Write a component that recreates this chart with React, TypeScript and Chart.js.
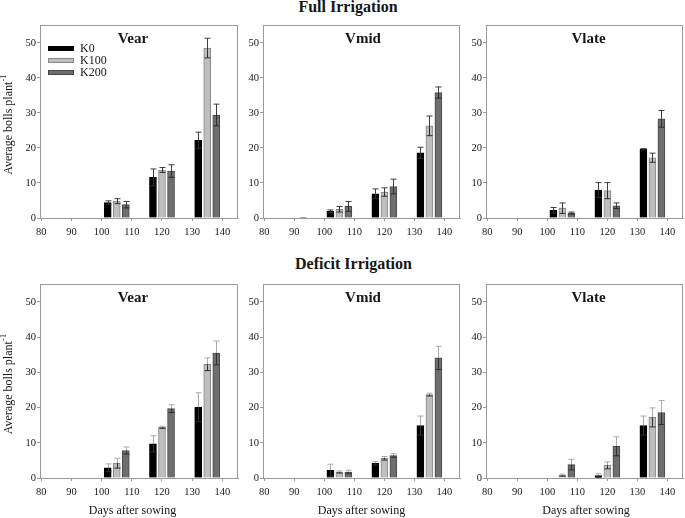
import { useEffect, useRef } from "react";
import { Chart, registerables } from "chart.js";

Chart.register(...registerables);

const FONT = "'Liberation Serif', 'Times New Roman', Times, serif";
const AXIS = "#9a9a9a";
const TEXT = "#161616";

// ---------------- data ----------------
const treatments = ["K0", "K100", "K200"];
const daysK0 = [87, 102, 117, 132];
const daysK100 = [90, 105, 120, 135];
const daysK200 = [93, 108, 123, 138];
const xTickValues = [80, 90, 100, 110, 120, 130, 140];
const yTickValues = [0, 10, 20, 30, 40, 50];
const cultivars = ["Vear", "Vmid", "Vlate"];
const regimes = ["Full Irrigation", "Deficit Irrigation"];

// rows: K0, K100, K200 ; columns follow the sampling days
const fullVearMean = [[0, 4.4, 11.6, 22.2], [0, 4.8, 13.7, 48.5], [0, 3.8, 13.4, 29.4]];
const fullVearErr = [[0, 0.5, 2.4, 2.3], [0, 0.7, 0.7, 2.8], [0, 0.9, 1.8, 3.1]];
const fullVmidMean = [[0, 1.9, 6.9, 18.6], [0, 2.5, 7.4, 26.3], [0.2, 3.3, 9.0, 35.8]];
const fullVmidErr = [[0, 0.4, 1.4, 1.6], [0, 0.8, 1.2, 2.8], [0, 1.4, 2.1, 1.6]];
const fullVlateMean = [[0, 2.2, 8.0, 19.6], [0, 2.8, 7.8, 17.2], [0, 1.4, 3.5, 28.3]];
const fullVlateErr = [[0, 0.8, 2.1, 0.2], [0, 1.5, 2.3, 1.3], [0, 0.3, 0.8, 2.4]];
const defVearMean = [[0, 2.9, 9.7, 20.1], [0, 4.2, 14.4, 32.3], [0, 7.8, 19.7, 35.5]];
const defVearErr = [[0, 1.1, 2.3, 4.1], [0, 1.4, 0.3, 1.8], [0, 1.0, 1.1, 3.4]];
const defVmidMean = [[0, 2.2, 4.2, 14.9], [0, 1.7, 5.6, 23.7], [0, 1.7, 6.4, 34.1]];
const defVmidErr = [[0, 1.7, 0.5, 2.7], [0, 0.3, 0.5, 0.4], [0, 0.5, 0.5, 3.3]];
const defVlateMean = [[0, 0, 0.7, 14.9], [0, 0.8, 3.6, 17.2], [0, 3.8, 9.0, 18.6]];
const defVlateErr = [[0, 0, 0.5, 2.7], [0, 0.3, 1.0, 2.7], [0, 1.5, 2.7, 3.4]];

// ---------------- styling ----------------
const barFill = ["#000000", "#bebebe", "#6e6e6e"];
const barEdge = ["#000000", "#878787", "#474747"];
const colLeft = [40, 263, 486];
const colRight = [238, 460, 683];
const rowTop = [20, 279];
const rowBottom = [218, 478];
const titleDx = [-6, 1.5, 4];
const xTitleDx = [-6.5, 0, 1.5];
const TP = 2;
const RP = 2;

type PanelProps = {
  row: number;
  col: number;
  means: number[][];
  errs: number[][];
};

function Panel({ row, col, means, errs }: PanelProps) {
  const ref = useRef<HTMLCanvasElement>(null);
  const yw = col === 0 ? 40 : 26;
  const xh = row === 0 ? 28 : 45;
  const L = colLeft[col];
  const R = colRight[col];
  const T = rowTop[row];
  const B = rowBottom[row];
  const w = yw + (R - L) + RP;
  const h = TP + (B - T) + xh;
  const deficit = row === 1;

  useEffect(() => {
    const days = [daysK0, daysK100, daysK200];
    const deco = {
      id: "deco" + row + col,
      afterDatasetsDraw(chart: any) {
        const ctx = chart.ctx;
        const ys = chart.scales.y;
        ctx.save();
        ctx.lineWidth = 1;
        chart.data.datasets.forEach((_ds: any, k: number) => {
          const meta = chart.getDatasetMeta(k);
          meta.data.forEach((bar: any, i: number) => {
            const v = means[k][i];
            const e = errs[k][i];
            if (!e) return;
            const x = Math.round(bar.x) + 0.5;
            const yTop = ys.getPixelForValue(v);
            const yHi = ys.getPixelForValue(v + e);
            const yLo = ys.getPixelForValue(Math.max(0, v - e));
            const cap = 3;
            ctx.strokeStyle = deficit ? "#a9a9a9" : "#3c3c3c";
            ctx.beginPath();
            ctx.moveTo(x, yTop);
            ctx.lineTo(x, yHi);
            ctx.moveTo(x - cap, yHi);
            ctx.lineTo(x + cap, yHi);
            ctx.stroke();
            ctx.strokeStyle = "#2e2e2e";
            ctx.beginPath();
            ctx.moveTo(x, yTop);
            ctx.lineTo(x, yLo);
            ctx.moveTo(x - cap, yLo);
            ctx.lineTo(x + cap, yLo);
            ctx.stroke();
          });
        });
        ctx.restore();
      },
      afterDraw(chart: any) {
        const ctx = chart.ctx;
        const a = chart.chartArea;
        ctx.save();
        // frame
        ctx.strokeStyle = AXIS;
        ctx.lineWidth = 1;
        ctx.strokeRect(Math.round(a.left) + 0.5, Math.round(a.top) + 0.5, Math.round(a.right - a.left) - 1, Math.round(a.bottom - a.top));
        // panel title
        ctx.fillStyle = TEXT;
        ctx.font = `bold 15px ${FONT}`;
        ctx.textAlign = "center";
        ctx.textBaseline = "alphabetic";
        ctx.fillText(cultivars[col], (a.left + a.right) / 2 + titleDx[col], a.top + 17.8);
        // legend
        if (row === 0 && col === 0) {
          ctx.font = `12px ${FONT}`;
          ctx.textAlign = "left";
          ctx.textBaseline = "middle";
          chart.data.datasets.forEach((ds: any, k: number) => {
            const cy = a.top + 23.3 + k * 11.7;
            const bx = a.left + 8;
            ctx.fillStyle = ds.borderColor;
            ctx.fillRect(bx, Math.round(cy - 2.5), 26, 5);
            ctx.fillStyle = ds.backgroundColor;
            ctx.fillRect(bx + 1, Math.round(cy - 2.5) + 1, 24, 3);
            ctx.fillStyle = TEXT;
            ctx.fillText(ds.label, bx + 32, cy + 0.5);
          });
        }
        // y title
        if (col === 0) {
          const main = "Average bolls plant";
          const sup = "-1";
          ctx.font = `12px ${FONT}`;
          const wMain = ctx.measureText(main).width;
          ctx.font = `8px ${FONT}`;
          const wSup = ctx.measureText(sup).width;
          const total = wMain + wSup + 0.5;
          ctx.translate(8.5, (a.top + a.bottom) / 2 + 3);
          ctx.rotate(-Math.PI / 2);
          ctx.fillStyle = TEXT;
          ctx.textAlign = "left";
          ctx.textBaseline = "middle";
          ctx.font = `12px ${FONT}`;
          ctx.fillText(main, -total / 2, 0);
          ctx.font = `8px ${FONT}`;
          ctx.fillText(sup, -total / 2 + wMain + 0.5, -4.5);
          ctx.setTransform(1, 0, 0, 1, 0, 0);
          ctx.restore();
          ctx.save();
        }
        // x title
        if (row === 1) {
          ctx.fillStyle = TEXT;
          ctx.font = `12px ${FONT}`;
          ctx.textAlign = "center";
          ctx.textBaseline = "middle";
          ctx.fillText("Days after sowing", (a.left + a.right) / 2 + xTitleDx[col], a.bottom + 33);
        }
        ctx.restore();
      },
    };

    const chart = new Chart(ref.current as HTMLCanvasElement, {
      type: "bar",
      data: {
        datasets: treatments.map((t, k) => ({
          label: t,
          data: days[k].map((d, i) => ({ x: d, y: means[k][i] })),
          backgroundColor: barFill[k],
          borderColor: barEdge[k],
          borderWidth: 1,
          borderSkipped: "start",
          barThickness: 7,
          grouped: false,
        })),
      } as any,
      options: {
        responsive: false,
        animation: false,
        devicePixelRatio: window.devicePixelRatio || 1,
        layout: { padding: { top: TP, right: RP, left: 0, bottom: 0 } },
        plugins: {
          legend: { display: false },
          tooltip: { enabled: false },
          title: { display: false },
        },
        scales: {
          x: {
            type: "linear",
            min: 79.55,
            max: 145.2,
            offset: false,
            afterBuildTicks: (s: any) => {
              s.ticks = xTickValues.map((v) => ({ value: v }));
            },
            afterFit: (s: any) => {
              s.height = xh;
            },
            grid: { display: true, offset: false, drawOnChartArea: false, drawTicks: true, tickLength: 3, color: AXIS },
            border: { display: true, color: AXIS },
            ticks: { font: { family: FONT, size: 10.5 }, color: TEXT, padding: 5, maxRotation: 0, autoSkip: false },
          },
          y: {
            type: "linear",
            min: 0,
            max: 55,
            afterBuildTicks: (s: any) => {
              s.ticks = yTickValues.map((v) => ({ value: v }));
            },
            afterFit: (s: any) => {
              s.width = yw;
            },
            grid: { display: true, drawOnChartArea: false, drawTicks: true, tickLength: 3, color: AXIS },
            border: { display: true, color: AXIS },
            ticks: { font: { family: FONT, size: 10.5 }, color: TEXT, padding: 1, autoSkip: false },
          },
        },
      } as any,
      plugins: [deco],
    });
    return () => chart.destroy();
  }, []);

  return (
    <canvas
      ref={ref}
      width={w}
      height={h}
      style={{ position: "absolute", left: L - yw, top: T - TP, width: w, height: h }}
    />
  );
}

const panelMeans = [
  [fullVearMean, fullVmidMean, fullVlateMean],
  [defVearMean, defVmidMean, defVlateMean],
];
const panelErrs = [
  [fullVearErr, fullVmidErr, fullVlateErr],
  [defVearErr, defVmidErr, defVlateErr],
];
const headerCenter = [348, 353.5];
const headerTop = [-1.1, 255.6];

export default function App() {
  return (
    <div style={{ position: "absolute", left: 0, top: 0, width: 685, height: 518, background: "#ffffff", overflow: "hidden" }}>
      {regimes.map((r, i) => (
        <div
          key={r}
          style={{
            position: "absolute",
            left: headerCenter[i] - 150,
            top: headerTop[i],
            width: 300,
            textAlign: "center",
            font: `bold 16px ${FONT}`,
            lineHeight: "16px",
            color: TEXT,
            whiteSpace: "nowrap",
          }}
        >
          {r}
        </div>
      ))}
      {[0, 1].map((row) =>
        [0, 1, 2].map((col) => (
          <Panel key={`${row}-${col}`} row={row} col={col} means={panelMeans[row][col]} errs={panelErrs[row][col]} />
        ))
      )}
    </div>
  );
}
